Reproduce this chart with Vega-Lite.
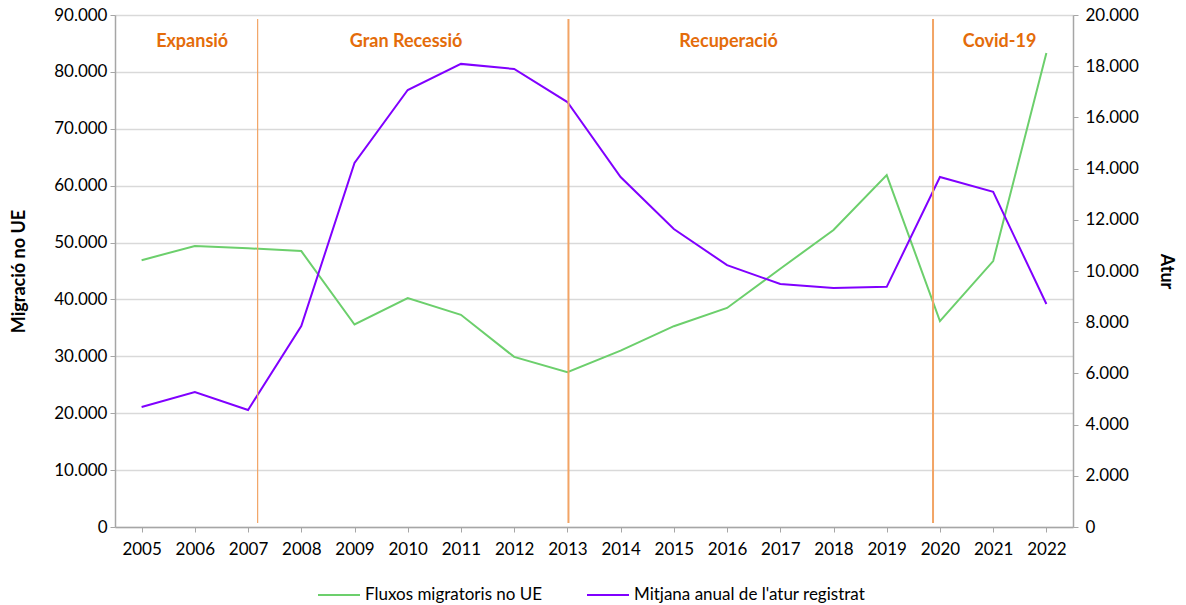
{
  "$schema": "https://vega.github.io/schema/vega-lite/v6.json",
  "width": 958,
  "height": 512,
  "autosize": {"type": "none"},
  "padding": {"left": 115, "top": 15, "right": 113, "bottom": 78},
  "background": "white",
  "config": {
    "view": {"stroke": null},
    "font": "Lato",
    "axis": {"labelFont": "Lato", "titleFont": "Lato", "labelFontSize": 17, "titleFontSize": 18, "labelColor": "#000000", "titleColor": "#000000", "domainColor": "#A6A6A6", "tickColor": "#A6A6A6", "gridColor": "#D9D9D9", "gridWidth": 1.5, "labelOverlap": false},
    "legend": {"labelFont": "Lato", "labelFontSize": 17, "labelColor": "#000000", "labelLimit": 0}
  },
  "datasets": {
    "series": [
      {"year": 2005, "migracio": 46900, "atur": 4690},
      {"year": 2006, "migracio": 49400, "atur": 5270},
      {"year": 2007, "migracio": 49000, "atur": 4570},
      {"year": 2008, "migracio": 48500, "atur": 7850},
      {"year": 2009, "migracio": 35600, "atur": 14220},
      {"year": 2010, "migracio": 40250, "atur": 17070},
      {"year": 2011, "migracio": 37300, "atur": 18090},
      {"year": 2012, "migracio": 29900, "atur": 17890},
      {"year": 2013, "migracio": 27200, "atur": 16600},
      {"year": 2014, "migracio": 31000, "atur": 13670},
      {"year": 2015, "migracio": 35300, "atur": 11640},
      {"year": 2016, "migracio": 38500, "atur": 10230},
      {"year": 2017, "migracio": 45400, "atur": 9490},
      {"year": 2018, "migracio": 52200, "atur": 9340},
      {"year": 2019, "migracio": 61850, "atur": 9380},
      {"year": 2020, "migracio": 36200, "atur": 13670},
      {"year": 2021, "migracio": 46750, "atur": 13090},
      {"year": 2022, "migracio": 83300, "atur": 8710}
    ],
    "rules": [
      {"pos": 2007.18, "top": 89300, "bottom": 700, "w": 1.2},
      {"pos": 2013.02, "top": 89300, "bottom": 700, "w": 2},
      {"pos": 2019.87, "top": 89300, "bottom": 700, "w": 2}
    ],
    "phases": [
      {"pos": 2005.95, "yv": 85250, "label": "Expansió"},
      {"pos": 2009.97, "yv": 85250, "label": "Gran Recessió"},
      {"pos": 2016.03, "yv": 85250, "label": "Recuperació"},
      {"pos": 2021.12, "yv": 85250, "label": "Covid-19"}
    ]
  },
  "layer": [
    {
      "data": {"name": "series"},
      "mark": {"type": "line", "strokeWidth": 2},
      "encoding": {
        "x": {"field": "year", "type": "quantitative", "scale": {"domain": [2004.5, 2022.5], "nice": false, "zero": false},
              "axis": {"title": null, "values": [2005,2006,2007,2008,2009,2010,2011,2012,2013,2014,2015,2016,2017,2018,2019,2020,2021,2022], "format": "d", "grid": false, "tickSize": 5, "labelPadding": 9, "domainWidth": 1.5}},
        "y": {"field": "migracio", "type": "quantitative", "scale": {"domain": [0, 90000], "nice": false},
              "axis": {"orient": "left", "title": "Migració no UE", "titleFontWeight": "bold", "values": [0,10000,20000,30000,40000,50000,60000,70000,80000,90000], "format": ",.0f", "labelExpr": "replace(datum.label, ',', '.')", "grid": true, "tickSize": 5, "labelPadding": 3, "titlePadding": 25, "domainWidth": 1.5}},
        "color": {"datum": "Fluxos migratoris no UE", "type": "nominal",
                  "scale": {"domain": ["Fluxos migratoris no UE", "Mitjana anual de l'atur registrat"], "range": ["#6CCF6C", "#8000FF"]},
                  "legend": {"title": null, "orient": "none", "legendX": 202, "legendY": 558, "direction": "horizontal", "symbolType": "stroke", "symbolSize": 1764, "symbolStrokeWidth": 2, "columnPadding": 40, "labelOffset": 4}}
      }
    },
    {
      "data": {"name": "series"},
      "mark": {"type": "line", "strokeWidth": 2},
      "encoding": {
        "x": {"field": "year", "type": "quantitative"},
        "y": {"field": "atur", "type": "quantitative", "scale": {"domain": [0, 20000], "nice": false},
              "axis": {"orient": "right", "title": "Atur", "titleFontWeight": "bold", "values": [0,2000,4000,6000,8000,10000,12000,14000,16000,18000,20000], "format": ",.0f", "labelExpr": "replace(datum.label, ',', '.')", "grid": false, "tickSize": 5, "labelPadding": 7, "titlePadding": 18, "domainWidth": 1.5}},
        "color": {"datum": "Mitjana anual de l'atur registrat", "type": "nominal"}
      }
    },
    {
      "data": {"name": "rules"},
      "mark": {"type": "rule", "color": "#F2A465"},
      "encoding": {
        "x": {"field": "pos", "type": "quantitative"},
        "y": {"field": "top", "type": "quantitative", "scale": {"domain": [0, 90000], "nice": false}, "axis": null},
        "y2": {"field": "bottom"},
        "strokeWidth": {"field": "w", "type": "quantitative", "scale": null, "legend": null}
      }
    },
    {
      "data": {"name": "phases"},
      "mark": {"type": "text", "color": "#E46C0A", "fontWeight": "bold", "fontSize": 18, "font": "Lato", "align": "center", "baseline": "middle"},
      "encoding": {
        "x": {"field": "pos", "type": "quantitative"},
        "y": {"field": "yv", "type": "quantitative", "scale": {"domain": [0, 90000], "nice": false}, "axis": null},
        "text": {"field": "label"}
      }
    }
  ],
  "resolve": {"scale": {"y": "independent"}}
}
